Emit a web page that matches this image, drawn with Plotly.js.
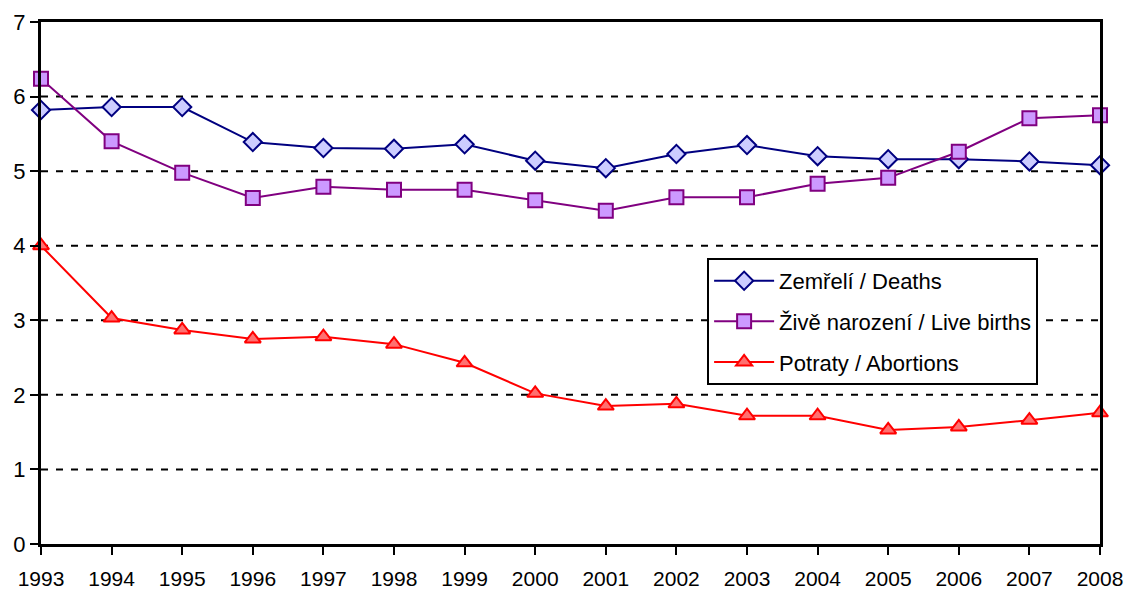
<!DOCTYPE html>
<html><head><meta charset="utf-8">
<script src="https://cdn.plot.ly/plotly-3.0.1.min.js"></script>
<style>html,body{margin:0;padding:0;background:#fff}#c{width:1127px;height:595px}</style>
</head><body><div id="c"></div>
<script>
const years = [1993,1994,1995,1996,1997,1998,1999,2000,2001,2002,2003,2004,2005,2006,2007,2008];
const deaths = [5.82,5.86,5.86,5.39,5.31,5.30,5.36,5.14,5.04,5.23,5.35,5.20,5.16,5.16,5.13,5.08];
const liveBirths = [6.24,5.40,4.98,4.64,4.79,4.75,4.75,4.61,4.47,4.65,4.65,4.83,4.91,5.26,5.71,5.75];
const abortions = [4.00,3.03,2.87,2.75,2.78,2.68,2.43,2.02,1.85,1.88,1.72,1.72,1.53,1.57,1.66,1.76];
const seriesNames = ['Zemřelí / Deaths','Živě narození / Live births','Potraty / Abortions'];
const yTicks = [0,1,2,3,4,5,6,7];

const font = '"Liberation Sans", Arial, sans-serif';
const traces = [
  {x: years, y: deaths, name: seriesNames[0], mode: 'lines+markers', legendgroup: 'a', cliponaxis: false,
   line: {color: '#000080', width: 2},
   marker: {symbol: 'diamond', size: 14, color: '#ccccff', line: {color: '#000080', width: 2}}},
  {x: years, y: liveBirths, name: seriesNames[1], mode: 'lines+markers', legendgroup: 'b', cliponaxis: false,
   line: {color: '#800080', width: 2},
   marker: {symbol: 'square', size: 14, color: '#cc99ff', line: {color: '#800080', width: 2}}},
  {x: years, y: abortions, name: seriesNames[2], mode: 'lines+markers', legendgroup: 'c', cliponaxis: false,
   line: {color: '#ff0000', width: 2},
   marker: {symbol: 'triangle-up', size: 14, color: '#ff7070', line: {color: '#ff0000', width: 2}}}
];
const gridShapes = [1,2,3,4,5,6].map(v => ({
  type: 'line', xref: 'paper', yref: 'y', x0: 0, x1: 1, y0: v, y1: v,
  line: {color: '#000', width: 2, dash: '7px,8px'}, layer: 'below'
}));
const layout = {
  width: 1127, height: 595,
  margin: {l: 41, r: 27, t: 22, b: 51},
  paper_bgcolor: '#fff', plot_bgcolor: '#fff',
  font: {family: font, size: 22, color: '#000'},
  showlegend: true,
  legend: {x: 0.629, y: 0.548, xanchor: 'left', yanchor: 'top',
    bgcolor: '#fff', bordercolor: '#000', borderwidth: 2, itemwidth: 60,
    font: {family: font, size: 22}, traceorder: 'grouped', tracegroupgap: 9},
  xaxis: {range: [1993, 2008], tickvals: years, ticktext: years.map(String),
    showgrid: false, zeroline: false, showline: true, mirror: true,
    linecolor: '#000', linewidth: 3, ticks: 'outside', ticklen: 8, tickwidth: 2,
    tickcolor: '#000', tickfont: {family: font, size: 21}, ticklabelstandoff: 6},
  yaxis: {range: [0, 7], tickvals: yTicks, showgrid: false, zeroline: false,
    showline: true, mirror: true, linecolor: '#000', linewidth: 3,
    ticks: 'outside', ticklen: 8, tickwidth: 2, tickcolor: '#000',
    tickfont: {family: font, size: 22}},
  shapes: gridShapes
};
Plotly.newPlot('c', traces, layout, {displayModeBar: false, staticPlot: true});
</script></body></html>
